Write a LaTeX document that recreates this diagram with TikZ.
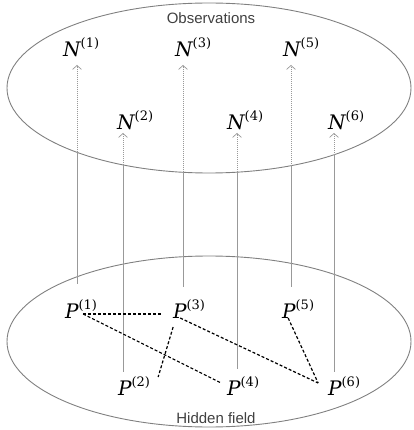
\documentclass[tikz,border=0pt]{standalone}
\usepackage{fontspec}
\setmainfont{Liberation Sans}
\newfontfamily\dvserif{DejaVu Serif}
\usetikzlibrary{arrows.meta,calc}
\newcommand\vsym[2]{{\dvserif\fontsize{20}{24}\selectfont\itshape #1}\raisebox{9pt}{\dvserif\fontsize{13}{15}\selectfont(#2)}}

\begin{document}
\begin{tikzpicture}[x=1pt,y=-1pt,
field/.style={draw=gray,line width=0.9pt},
title/.style={anchor=base,text=black!75,font=\fontsize{15}{18}\selectfont},
var/.style={inner sep=0pt,anchor=base west},
hidlink/.style={draw=black!40,line width=1pt},
obslink/.style={draw=black!40,line width=0.7pt,dash pattern=on 1pt off 1pt,-{Straight Barb[length=4pt,width=9pt,line width=0.7pt]}},
link/.style={draw=black,line width=1.2pt,dash pattern=on 3pt off 2pt}]
\useasboundingbox (0,0) rectangle (413,430);
% the two fields
\draw[field] (209,88) ellipse [x radius=202pt,y radius=85pt];
\draw[field] (209,341.5) ellipse [x radius=202pt,y radius=85.5pt];
\node[title] (obs) at (211,23.5) {Observations};
\node[title] (hid) at (216,423.5) {Hidden field};
% observed variables
\node[var] (n1) at (63,57) {\vsym{N}{1}};
\node[var] (n3) at (175,57) {\vsym{N}{3}};
\node[var] (n5) at (283,57) {\vsym{N}{5}};
\node[var] (n2) at (117,130) {\vsym{N}{2}};
\node[var] (n4) at (227,130) {\vsym{N}{4}};
\node[var] (n6) at (328,130) {\vsym{N}{6}};
% hidden variables
\node[var] (p1) at (65,318) {\vsym{P}{1}};
\node[var] (p3) at (173,318) {\vsym{P}{3}};
\node[var] (p5) at (282,318) {\vsym{P}{5}};
\node[var] (p2) at (118,395) {\vsym{P}{2}};
\node[var] (p4) at (227,395) {\vsym{P}{4}};
\node[var] (p6) at (328,395) {\vsym{P}{6}};
% emissions
\foreach \i/\x/\d/\e in {1/77/15/8,2/123/4/3,3/183/12/8,4/237/7/3,5/291/12/8,6/334/4/3}{
  \coordinate (c\i) at (\x,{88+85*sqrt(1-((\x-209)/202)*((\x-209)/202))});
  \draw[hidlink] ($(p\i.north -| c\i)+(0,-\d)$) -- (c\i);
  \draw[obslink] (c\i) -- ($(n\i.base -| c\i)+(0,\e)$);
}
% couplings in the hidden field
\draw[link] ($(p1.base)+(2,-4)$) -- ($(p3.base)+(-28,-4)$);
\draw[link] ($(p1.base)+(2,-4)$) -- ($(p4.base)+(-22,-12)$);
\draw[link] ($(p3.base)+(-16,9)$) -- ($(p2.base)+(24,-18)$);
\draw[link] ($(p3.base)+(-9,0)$) -- ($(p6.base)+(-26,-12)$);
\draw[link] ($(p5.base)+(-10,0)$) -- ($(p6.base)+(-26,-12)$);
\end{tikzpicture}
\end{document}
